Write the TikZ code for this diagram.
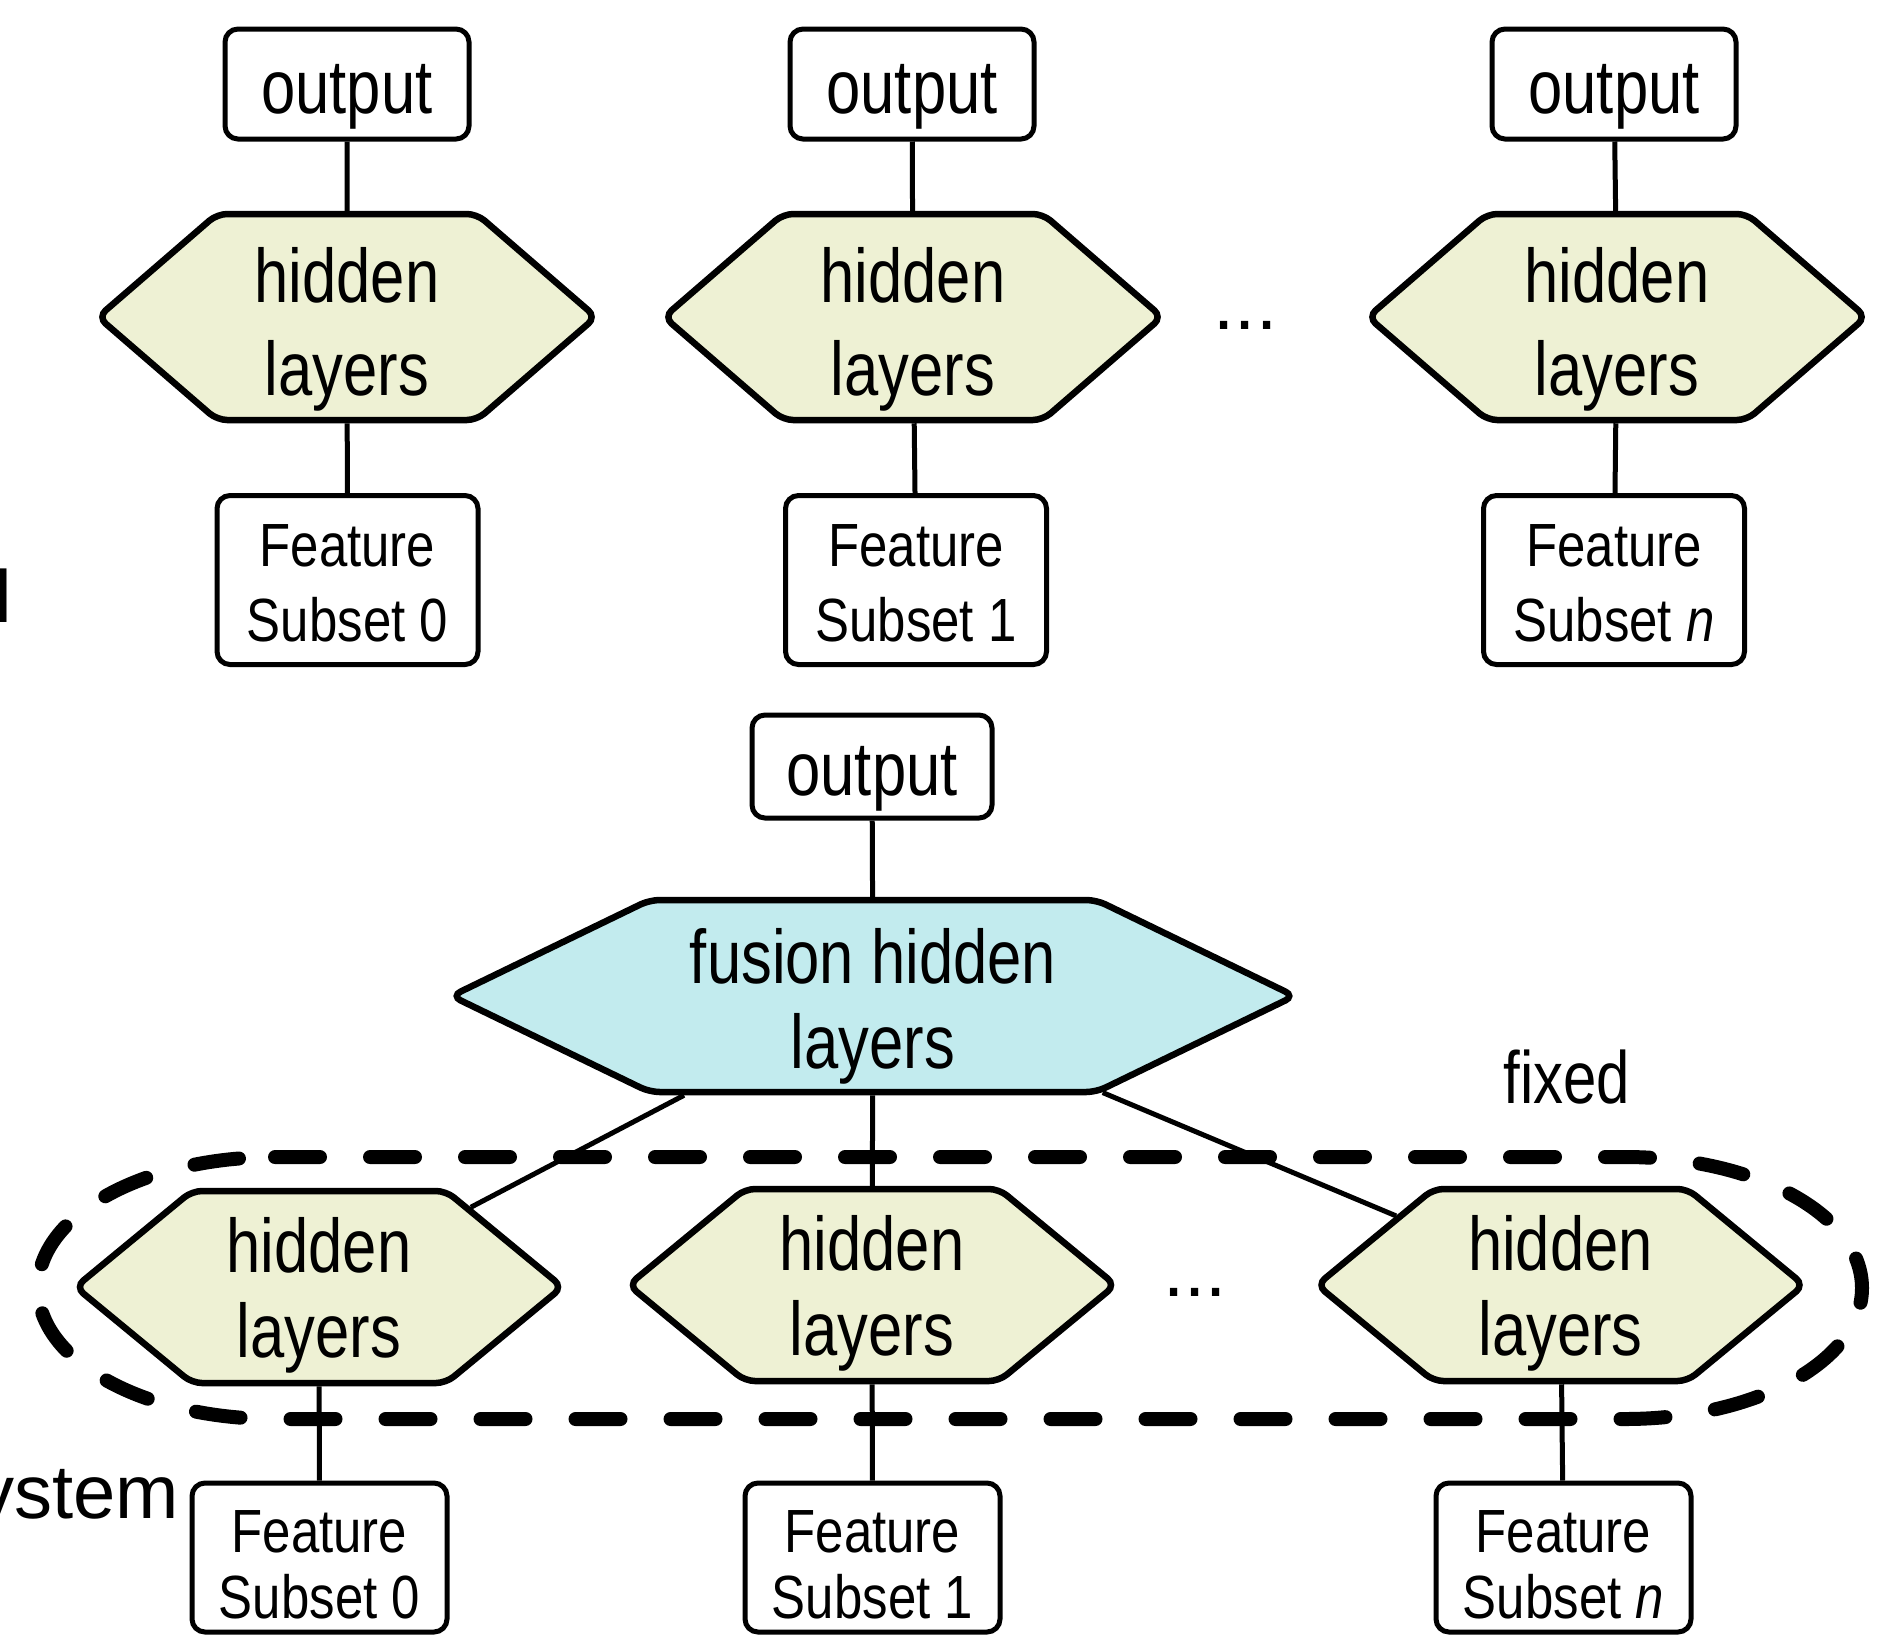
\documentclass[tikz,border=0pt]{standalone}
\usepackage{fontspec}
\setmainfont{Liberation Sans}
\newfontfamily\condfont[FakeStretch=0.81]{Liberation Sans}
\newfontfamily\featfont[FakeStretch=0.835]{Liberation Sans}
\usetikzlibrary{shapes.symbols}
\definecolor{hexfill}{HTML}{EEF1D4}
\definecolor{fusefill}{HTML}{C2EBEE}
\newcommand\liftrule[1]{\rule{0pt}{#1}}
\begin{document}
\begin{tikzpicture}[x=1pt,y=-1pt,
  outbox/.style={draw, line width=5pt, rounded corners=13pt, inner sep=0pt,
    minimum width=244pt, minimum height=110pt, font=\condfont\fontsize{76}{92}\selectfont},
  outboxb/.style={outbox, minimum width=240pt, minimum height=103pt},
  featbox/.style={draw, line width=5pt, rounded corners=13pt, inner sep=0pt, align=center,
    minimum width=261pt, minimum height=169pt, font=\featfont\fontsize{61}{75}\selectfont},
  featboxb/.style={featbox, minimum width=255pt, minimum height=149pt,
    font=\featfont\fontsize{61}{66}\selectfont},
  hexnode/.style={shape=signal, signal to=east and west, draw, line width=6.5pt,
    rounded corners=10pt, inner sep=0pt, align=center, fill=hexfill},
  tophex/.style={hexnode, minimum width=498pt, minimum height=206pt,
    signal pointer angle=81.7, font=\condfont\fontsize{76}{93}\selectfont},
  bothex/.style={hexnode, minimum width=487pt, minimum height=192pt,
    signal pointer angle=79, font=\condfont\fontsize{76}{85}\selectfont},
  fusehex/.style={hexnode, fill=fusefill, minimum width=843pt, minimum height=192pt,
    signal pointer angle=51.7, font=\condfont\fontsize{76}{85}\selectfont},
  conn/.style={line width=5pt},
  fixedline/.style={line width=14pt, line cap=round, dash pattern=on 45pt off 50pt},
  plain/.style={inner sep=0pt, font=\fontsize{76}{80}\selectfont},
]
\useasboundingbox (0,0) rectangle (1877,1634);

% ---------- top row ----------
\node[outbox] (o1) at (347,84) {\liftrule{74pt}output};
\node[outbox] (o2) at (912,84) {\liftrule{74pt}output};
\node[outbox] (o3) at (1614,84) {\liftrule{74pt}output};

\node[tophex] (h1) at (347,317) {\liftrule{79pt}hidden\\layers};
\node[tophex] (h2) at (913,317) {\liftrule{79pt}hidden\\layers};
\node[tophex] (h3) at (1617,317) {\liftrule{79pt}hidden\\layers};

\node[featbox] (f1) at (347.5,580) {\liftrule{48pt}Feature\\Subset 0};
\node[featbox] (f2) at (916,580) {\liftrule{48pt}Feature\\Subset 1};
\node[featbox] (f3) at (1614,580) {\liftrule{48pt}Feature\\Subset \textit{n}};

\node[plain, anchor=base] (dots1) at (1245.5,329) {...};
\node[plain, font=\fontsize{74}{80}\selectfont, anchor=base west] (sideA) at (-4.5,622) {l};

\draw[conn] (o1) -- (h1);
\draw[conn] (o2) -- (h2);
\draw[conn] (o3) -- (h3);
\draw[conn] (h1) -- (f1);
\draw[conn] (h2) -- (f2);
\draw[conn] (h3) -- (f3);

% ---------- bottom part ----------
\node[outboxb] (oF) at (872,766.5) {\liftrule{74pt}output};
\node[fusehex] (fus) at (873,996) {\liftrule{75pt}fusion hidden\\layers};

\node[bothex] (L1) at (319,1287) {\liftrule{72pt}hidden\\layers};
\node[bothex] (L2) at (872,1285) {\liftrule{72pt}hidden\\layers};
\node[bothex] (L3) at (1560.5,1285) {\liftrule{72pt}hidden\\layers};

\node[featboxb] (B1) at (319.5,1557.5) {\liftrule{56pt}Feature\\Subset 0};
\node[featboxb] (B2) at (872.5,1557.5) {\liftrule{56pt}Feature\\Subset 1};
\node[featboxb] (B3) at (1563.5,1557.5) {\liftrule{56pt}Feature\\Subset \textit{n}};

\node[plain, anchor=base] (dots2) at (1195,1296) {...};
\node[inner sep=0pt, font=\condfont\fontsize{74}{80}\selectfont, anchor=base] (fixedlbl) at (1567,1103) {fixed};
\node[plain, anchor=base east] (sideB) at (179,1518) {ystem};

\draw[conn] (oF) -- (fus);
\draw[conn] (fus) -- (L1);
\draw[conn] (fus) -- (L2);
\draw[conn] (fus) -- (L3);
\draw[conn] (L1) -- (B1);
\draw[conn] (L2) -- (B2);
\draw[conn] (L3) -- (B3);

% dashed "fixed" enclosure
\draw[fixedline] (275,1157) -- (1625,1157)
  .. controls (1757,1157) and (1862,1215.6) .. (1862,1288)
  .. controls (1862,1360.4) and (1757,1419) .. (1625,1419)
  -- (275,1419)
  .. controls (143,1419) and (38,1360.4) .. (38,1288)
  .. controls (38,1215.6) and (143,1157) .. (275,1157) -- cycle;
\end{tikzpicture}
\end{document}
